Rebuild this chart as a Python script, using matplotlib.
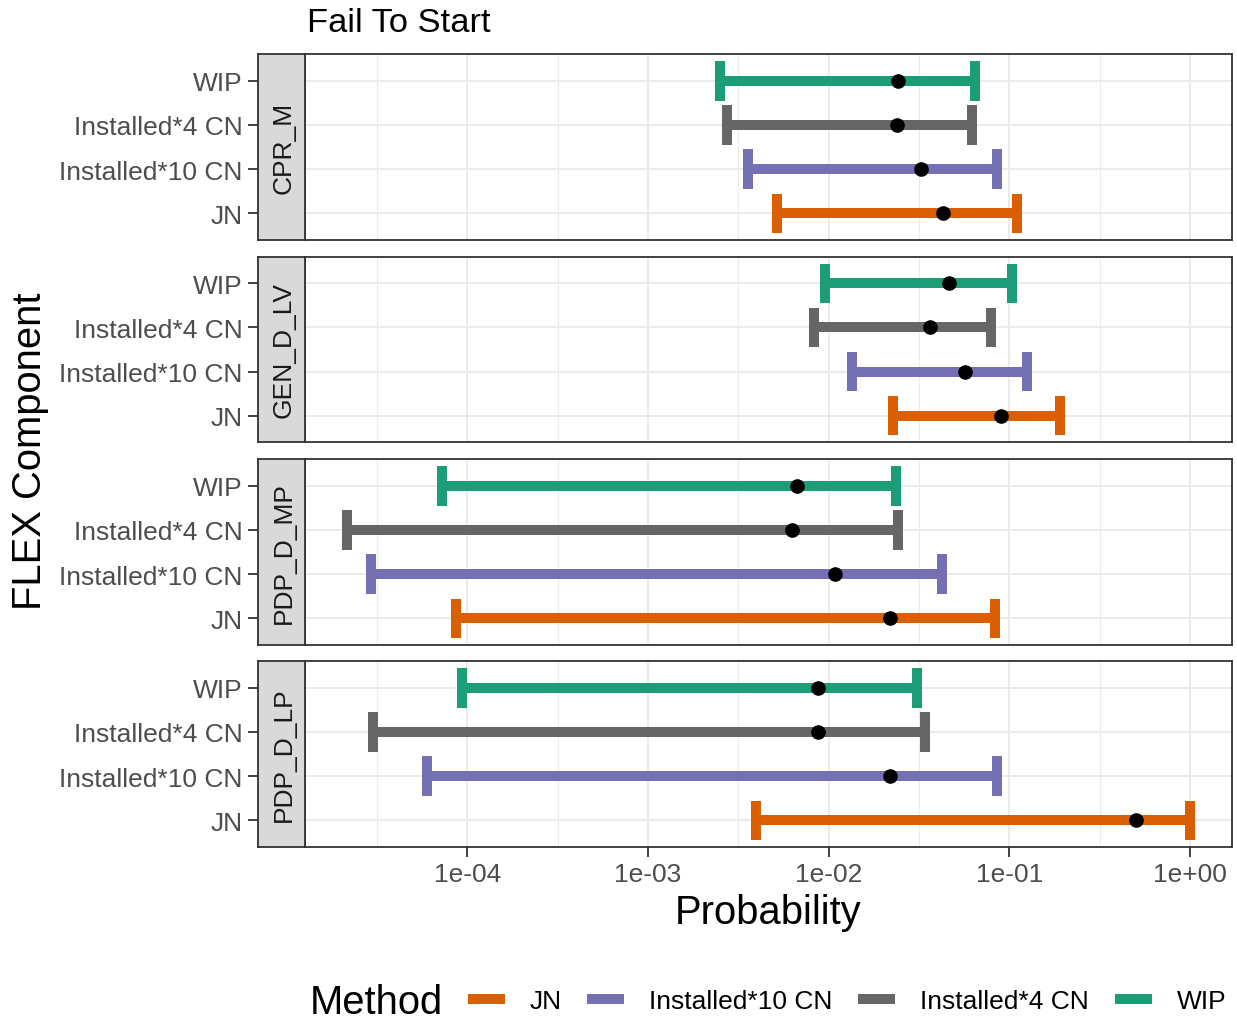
import matplotlib
matplotlib.use('Agg')
import matplotlib.pyplot as plt
import numpy as np
from matplotlib.lines import Line2D
from matplotlib.ticker import NullLocator

plt.rcParams['font.family'] = ['Liberation Sans', 'DejaVu Sans']

# ---------------- data ----------------
components = ['CPR_M', 'GEN_D_LV', 'PDP_D_MP', 'PDP_D_LP']
methods = ['JN', 'Installed*10 CN', 'Installed*4 CN', 'WIP']
colors = ['#D95F02', '#7570B3', '#666666', '#1B9E77']

# per component, values in method order (JN, Installed*10 CN, Installed*4 CN, WIP)
lower = [
    [5.2e-3, 3.6e-3, 2.75e-3, 2.52e-3],
    [2.26e-2, 1.34e-2, 8.35e-3, 9.6e-3],
    [8.7e-5, 2.94e-5, 2.16e-5, 7.2e-5],
    [3.94e-3, 6.0e-5, 3.0e-5, 9.4e-5],
]
point = [
    [0.0428, 0.0324, 0.0238, 0.0241],
    [0.0897, 0.0566, 0.0363, 0.0463],
    [0.0218, 0.0108, 6.24e-3, 6.65e-3],
    [0.502, 0.0218, 8.7e-3, 8.7e-3],
]
upper = [
    [0.110, 0.0853, 0.062, 0.0644],
    [0.190, 0.126, 0.079, 0.104],
    [0.0832, 0.0423, 0.0241, 0.0235],
    [1.0, 0.0853, 0.034, 0.0308],
]
xtick_vals = [1e-4, 1e-3, 1e-2, 1e-1, 1e0]
xtick_labels = ['1e-04', '1e-03', '1e-02', '1e-01', '1e+00']

# ---------------- layout ----------------
W, H = 1237, 1020
fig = plt.figure(figsize=(W / 100, H / 100), dpi=100)

def fx(px):
    return px / W

def fy(py):
    return 1 - py / H

panel_tb = [(55, 241), (258, 443), (460, 646), (662, 848)]
PX0, PX1 = 305, 1232
SX0 = 258

lo_all = np.log10(min(min(r) for r in lower))
hi_all = np.log10(max(max(r) for r in upper))
rng = hi_all - lo_all
xlim = (10 ** (lo_all - 0.05 * rng), 10 ** (hi_all + 0.05 * rng))

GRID = '#EBEBEB'
DARK = '#333333'
TXT = '#4D4D4D'
LW = 7.2
FS_TICK = 19
FS_TITLE = 28.8

for i, comp in enumerate(components):
    top, bot = panel_tb[i]
    ax = fig.add_axes([fx(PX0), fy(bot), fx(PX1) - fx(PX0), (bot - top) / H])
    sax = fig.add_axes([fx(SX0), fy(bot), fx(PX0) - fx(SX0), (bot - top) / H])

    ax.set_xscale('log')
    ax.set_xlim(xlim)
    ax.set_ylim(-0.6, 3.6)
    ax.xaxis.set_minor_locator(NullLocator())

    # grid
    for e in range(-6, 2):
        ax.axvline(10.0 ** e, color=GRID, lw=1.4, zorder=0)
        ax.axvline(10.0 ** (e + 0.5), color=GRID, lw=0.8, zorder=0)
    for j in range(len(methods)):
        ax.axhline(j, color=GRID, lw=1.4, zorder=0)

    # error bars
    for j, m in enumerate(methods):
        lo, pt, hi = lower[i][j], point[i][j], upper[i][j]
        c = colors[j]
        ax.plot([lo, hi], [j, j], color=c, lw=LW, solid_capstyle='butt', zorder=3)
        ax.plot([lo, lo], [j - 0.45, j + 0.45], color=c, lw=LW, solid_capstyle='butt', zorder=3)
        ax.plot([hi, hi], [j - 0.45, j + 0.45], color=c, lw=LW, solid_capstyle='butt', zorder=3)
        ax.plot([pt], [j], 'o', color='black', ms=9.5, zorder=5)

    ax.set_yticks([])
    ax.set_xticks(xtick_vals)
    if i == len(components) - 1:
        ax.set_xticklabels(xtick_labels)
        ax.tick_params(axis='x', length=7, width=1.3, color=DARK,
                       labelsize=FS_TICK, labelcolor=TXT, pad=4)
    else:
        ax.tick_params(axis='x', length=0, labelbottom=False)
    for s in ax.spines.values():
        s.set_color(DARK)
        s.set_linewidth(1.3)

    # strip
    sax.set_facecolor('#D9D9D9')
    sax.set_xlim(0, 1)
    sax.set_ylim(-0.6, 3.6)
    sax.set_xticks([])
    sax.set_yticks(range(len(methods)))
    sax.set_yticklabels(methods)
    sax.tick_params(axis='y', length=7, width=1.3, color=DARK,
                    labelsize=FS_TICK, labelcolor=TXT, pad=4)
    for s in sax.spines.values():
        s.set_color(DARK)
        s.set_linewidth(1.3)
    sax.text(0.55, 0.5, comp, rotation=90, ha='center', va='center',
             fontsize=FS_TICK, color='#1A1A1A', transform=sax.transAxes)

# titles
fig.text(fx(307), fy(23), 'Fail To Start', fontsize=24.8, ha='left', va='center', color='black')
fig.text(fx((PX0 + PX1) / 2), fy(913), 'Probability', fontsize=FS_TITLE, ha='center', va='center')
fig.text(fx(30), fy(451), 'FLEX Component', fontsize=FS_TITLE, ha='center', va='center', rotation=90)

# legend
LY = 1000
fig.text(fx(310), fy(LY + 3), 'Method', fontsize=FS_TITLE, ha='left', va='center')
key_x = [468, 587, 858, 1115]
for kx, m, c in zip(key_x, methods, colors):
    fig.add_artist(Line2D([fx(kx), fx(kx + 37)], [fy(LY), fy(LY)], lw=LW, color=c,
                          solid_capstyle='butt', transform=fig.transFigure))
    fig.text(fx(kx + 62), fy(LY + 2), m, fontsize=FS_TICK, ha='left', va='center', color='black')

fig.savefig('out.png', dpi=100, facecolor='white')
